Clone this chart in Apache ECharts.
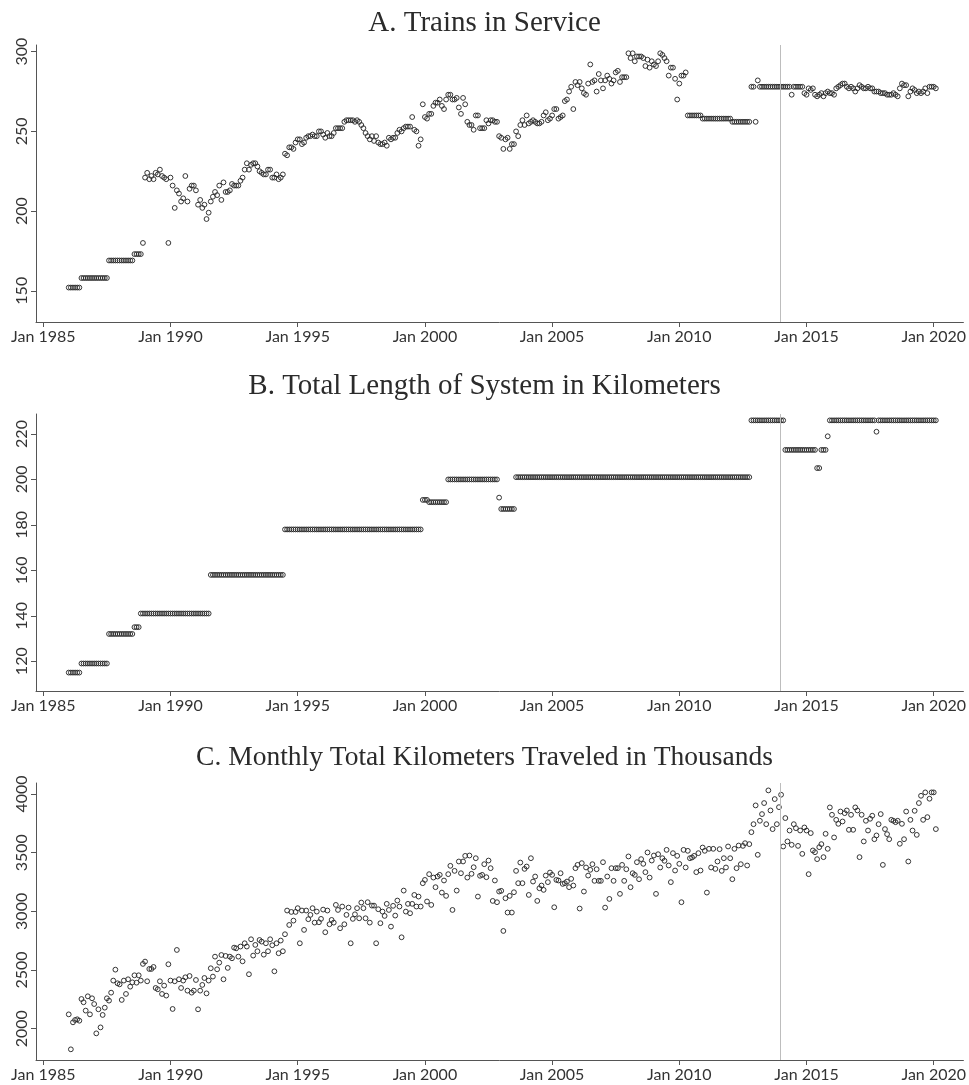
<!DOCTYPE html>
<html>
<head>
<meta charset="utf-8">
<script src="https://cdn.jsdelivr.net/npm/echarts@6/dist/echarts.min.js"></script>
<style>
html,body{margin:0;padding:0;background:#fff;}
#chart{width:969px;height:1085px;}
</style>
</head>
<body>
<div id="chart"></div>
<script>
// Monthly observations, Jan 1986 .. Feb 2020 (one row per year)
const startMonth = 12; // months since Jan 1985 of first observation (Jan 1986)

const trains = [
152,152,152,152,152,152,158,158,158,158,158,158,
158,158,158,158,158,158,158,169,169,169,169,169,
169,169,169,169,169,169,169,173,173,173,173,180,
221,224,220,222,220,224,223,226,222,221,220,180,
221,216,202,213,211,206,208,222,206,214,216,216,
213,204,207,202,204,195,199,206,209,212,210,216,
207,218,212,212,213,217,216,216,216,219,221,226,
230,226,229,230,230,228,225,224,223,223,226,226,
221,221,223,220,221,223,236,235,240,240,239,243,
245,245,242,243,246,247,247,248,247,247,250,250,
248,246,249,247,247,249,252,252,252,252,256,257,
257,257,257,256,257,256,254,252,249,247,245,247,
244,247,243,242,242,243,241,246,245,246,246,249,
251,250,252,253,253,253,259,251,250,241,245,267,
259,258,261,261,266,268,268,270,266,264,270,273,
273,270,270,271,265,261,271,267,256,254,254,251,
260,260,252,252,252,257,255,257,257,256,256,247,
246,239,245,246,239,242,242,250,247,254,257,254,
260,255,256,257,256,255,255,256,260,262,257,258,
260,264,264,258,259,260,269,270,275,278,264,281,
279,281,277,274,273,280,292,281,282,275,286,282,
277,282,285,283,280,282,287,288,281,284,284,284,
299,296,299,294,297,297,297,296,291,295,290,294,
292,291,294,299,298,296,294,285,290,290,283,270,
280,285,285,287,260,260,260,260,260,260,260,258,
258,258,258,258,258,258,258,258,258,258,258,258,
258,256,256,256,256,256,256,256,256,256,278,278,
256,282,278,278,278,278,278,278,278,278,278,278,
278,278,278,278,278,273,278,278,278,278,278,274,
273,277,276,277,273,272,273,274,272,274,275,274,
274,273,277,278,279,280,280,278,277,278,277,275,
277,279,278,277,277,278,277,277,275,275,275,274,
274,274,273,273,273,274,273,272,277,280,279,279,
272,275,277,276,274,275,274,275,277,274,278,278,
278,277
];

const systemLength = [
115,115,115,115,115,115,119,119,119,119,119,119,
119,119,119,119,119,119,119,132,132,132,132,132,
132,132,132,132,132,132,132,135,135,135,141,141,
141,141,141,141,141,141,141,141,141,141,141,141,
141,141,141,141,141,141,141,141,141,141,141,141,
141,141,141,141,141,141,141,158,158,158,158,158,
158,158,158,158,158,158,158,158,158,158,158,158,
158,158,158,158,158,158,158,158,158,158,158,158,
158,158,158,158,158,158,178,178,178,178,178,178,
178,178,178,178,178,178,178,178,178,178,178,178,
178,178,178,178,178,178,178,178,178,178,178,178,
178,178,178,178,178,178,178,178,178,178,178,178,
178,178,178,178,178,178,178,178,178,178,178,178,
178,178,178,178,178,178,178,178,178,178,178,191,
191,191,190,190,190,190,190,190,190,190,190,200,
200,200,200,200,200,200,200,200,200,200,200,200,
200,200,200,200,200,200,200,200,200,200,200,192,
187,187,187,187,187,187,187,201,201,201,201,201,
201,201,201,201,201,201,201,201,201,201,201,201,
201,201,201,201,201,201,201,201,201,201,201,201,
201,201,201,201,201,201,201,201,201,201,201,201,
201,201,201,201,201,201,201,201,201,201,201,201,
201,201,201,201,201,201,201,201,201,201,201,201,
201,201,201,201,201,201,201,201,201,201,201,201,
201,201,201,201,201,201,201,201,201,201,201,201,
201,201,201,201,201,201,201,201,201,201,201,201,
201,201,201,201,201,201,201,201,201,201,226,226,
226,226,226,226,226,226,226,226,226,226,226,226,
226,226,213,213,213,213,213,213,213,213,213,213,
213,213,213,213,213,205,205,213,213,213,219,226,
226,226,226,226,226,226,226,226,226,226,226,226,
226,226,226,226,226,226,226,226,226,221,226,226,
226,226,226,226,226,226,226,226,226,226,226,226,
226,226,226,226,226,226,226,226,226,226,226,226,
226,226
];

const kmTraveled = [
2122,1824,2054,2074,2080,2068,2253,2225,2154,2276,2122,2259,
2210,1960,2165,2011,2117,2179,2259,2239,2307,2410,2503,2387,
2378,2245,2410,2296,2421,2358,2395,2455,2392,2455,2410,2552,
2572,2404,2509,2509,2526,2347,2336,2404,2296,2367,2282,2549,
2410,2168,2404,2671,2421,2347,2410,2438,2324,2449,2307,2324,
2415,2165,2324,2373,2432,2301,2410,2515,2444,2614,2506,2563,
2628,2421,2620,2518,2614,2600,2691,2685,2614,2700,2574,2728,
2700,2464,2762,2623,2714,2660,2756,2742,2631,2728,2660,2762,
2711,2489,2728,2643,2751,2660,2805,3007,2884,2995,2921,2995,
3027,2728,3007,2842,3007,2933,2970,3027,2904,2998,2907,2936,
3015,2822,3007,2890,2927,2904,3055,3012,2856,3041,2890,2970,
3032,2728,2936,2975,3027,2941,3075,3027,2941,3078,2904,3049,
3049,2728,3018,2899,2998,2961,3064,3012,2870,3047,2964,3092,
3041,2779,3177,2998,3064,2984,3064,3140,3041,3126,3041,3240,
3268,3084,3317,3055,3288,3206,3297,3311,3160,3263,3132,3317,
3388,3012,3345,3177,3425,3325,3425,3473,3288,3476,3320,3376,
3453,3126,3303,3311,3402,3291,3433,3368,3089,3263,3078,3169,
3175,2833,3112,2990,3132,2990,3163,3345,3240,3416,3240,3362,
3382,3140,3453,3254,3297,3089,3197,3220,3183,3305,3249,3331,
3311,3035,3268,3263,3325,3234,3240,3254,3206,3277,3220,3368,
3396,3024,3411,3169,3374,3305,3354,3402,3260,3359,3260,3260,
3419,3032,3297,3106,3368,3260,3368,3368,3149,3396,3260,3359,
3468,3206,3325,3311,3419,3274,3445,3405,3334,3502,3288,3433,
3476,3149,3487,3374,3453,3431,3524,3391,3249,3496,3348,3473,
3405,3078,3524,3374,3516,3453,3459,3473,3334,3496,3348,3544,
3516,3160,3533,3374,3533,3362,3425,3530,3345,3453,3374,3553,
3453,3274,3533,3368,3561,3402,3558,3581,3391,3573,3675,3743,
3903,3482,3772,3829,3923,3743,4031,3860,3701,3957,3743,3888,
3994,3553,3795,3596,3689,3567,3743,3709,3558,3689,3490,3715,
3689,3317,3667,3519,3504,3445,3547,3573,3462,3661,3533,3886,
3823,3630,3780,3746,3851,3766,3837,3860,3695,3823,3695,3886,
3860,3462,3823,3596,3772,3689,3789,3815,3615,3647,3743,3829,
3396,3701,3658,3615,3780,3772,3760,3772,3576,3746,3615,3851,
3425,3780,3689,3857,3652,3923,3985,3780,4014,3803,3960,4014,
4014,3701
];

const panelTitles = [
  'A. Trains in Service',
  'B. Total Length of System in Kilometers',
  'C. Monthly Total Kilometers Traveled in Thousands'
];
const xTickMonths = [0, 60, 120, 180, 240, 300, 360, 420];
const xTickLabels = ['Jan 1985','Jan 1990','Jan 1995','Jan 2000','Jan 2005','Jan 2010','Jan 2015','Jan 2020'];
const yTicksA = [150, 200, 250, 300];
const yTicksB = [120, 140, 160, 180, 200, 220];
const yTicksC = [2000, 2500, 3000, 3500, 4000];
const eventMonth = 347.5; // vertical reference line (end of 2013)

const panels = [
  {title: panelTitles[0], data: trains,       yMin: 130.4, yMax: 304.2, yTicks: yTicksA, top: 45,  titleTop: 9,   titleSize: 29},
  {title: panelTitles[1], data: systemLength, yMin: 106.9, yMax: 228.8, yTicks: yTicksB, top: 414, titleTop: 372, titleSize: 29},
  {title: panelTitles[2], data: kmTraveled,   yMin: 1733,  yMax: 4094,  yTicks: yTicksC, top: 783, titleTop: 744, titleSize: 27.5}
];

const labelFont = 'Lato, "Open Sans", sans-serif';
const axisColor = '#555';

const option = {
  animation: false,
  backgroundColor: '#fff',
  title: panels.map(p => ({
    text: p.title, left: 'center', top: p.titleTop, padding: 0,
    textStyle: {fontFamily: '"Liberation Serif", "DejaVu Serif", serif', fontWeight: 'normal',
      fontSize: p.titleSize, lineHeight: p.titleSize, color: '#2b2b2b'}
  })),
  grid: panels.map(p => ({left: 36, right: 4, top: p.top, height: 277, containLabel: false})),
  xAxis: panels.map((p, i) => ({
    type: 'value', gridIndex: i, min: -3.44, max: 434.0,
    axisLine: {show: true, onZero: false, lineStyle: {color: axisColor, width: 1}},
    axisTick: {show: true, customValues: xTickMonths, length: 5, lineStyle: {color: axisColor}},
    axisLabel: {
      customValues: xTickMonths,
      formatter: v => xTickLabels[xTickMonths.indexOf(v)],
      fontFamily: labelFont, fontSize: 16, color: '#333', margin: 7
    },
    splitLine: {show: false}
  })),
  yAxis: panels.map((p, i) => ({
    type: 'value', gridIndex: i, min: p.yMin, max: p.yMax,
    axisLine: {show: true, onZero: false, lineStyle: {color: axisColor, width: 1}},
    axisTick: {show: true, customValues: p.yTicks, length: 5, lineStyle: {color: axisColor}},
    axisLabel: {customValues: p.yTicks, rotate: 90, formatter: v => String(v),
      fontFamily: labelFont, fontSize: 16, color: '#333', margin: 6},
    splitLine: {show: false}
  })),
  series: panels.map((p, i) => ({
    type: 'scatter', xAxisIndex: i, yAxisIndex: i,
    data: p.data.map((v, k) => [startMonth + k, v]),
    symbol: 'circle', symbolSize: 4.8,
    itemStyle: {color: 'rgba(255,255,255,0)', borderColor: '#2a2a2a', borderWidth: 0.95, opacity: 1},
    silent: true,
    markLine: {
      silent: true, symbol: ['none', 'none'], label: {show: false},
      lineStyle: {color: '#bdbdbd', width: 1, type: 'solid'},
      data: [{xAxis: eventMonth}]
    }
  }))
};

const chart = echarts.init(document.getElementById('chart'), null, {renderer: 'canvas'});
chart.setOption(option);
</script>
</body>
</html>
